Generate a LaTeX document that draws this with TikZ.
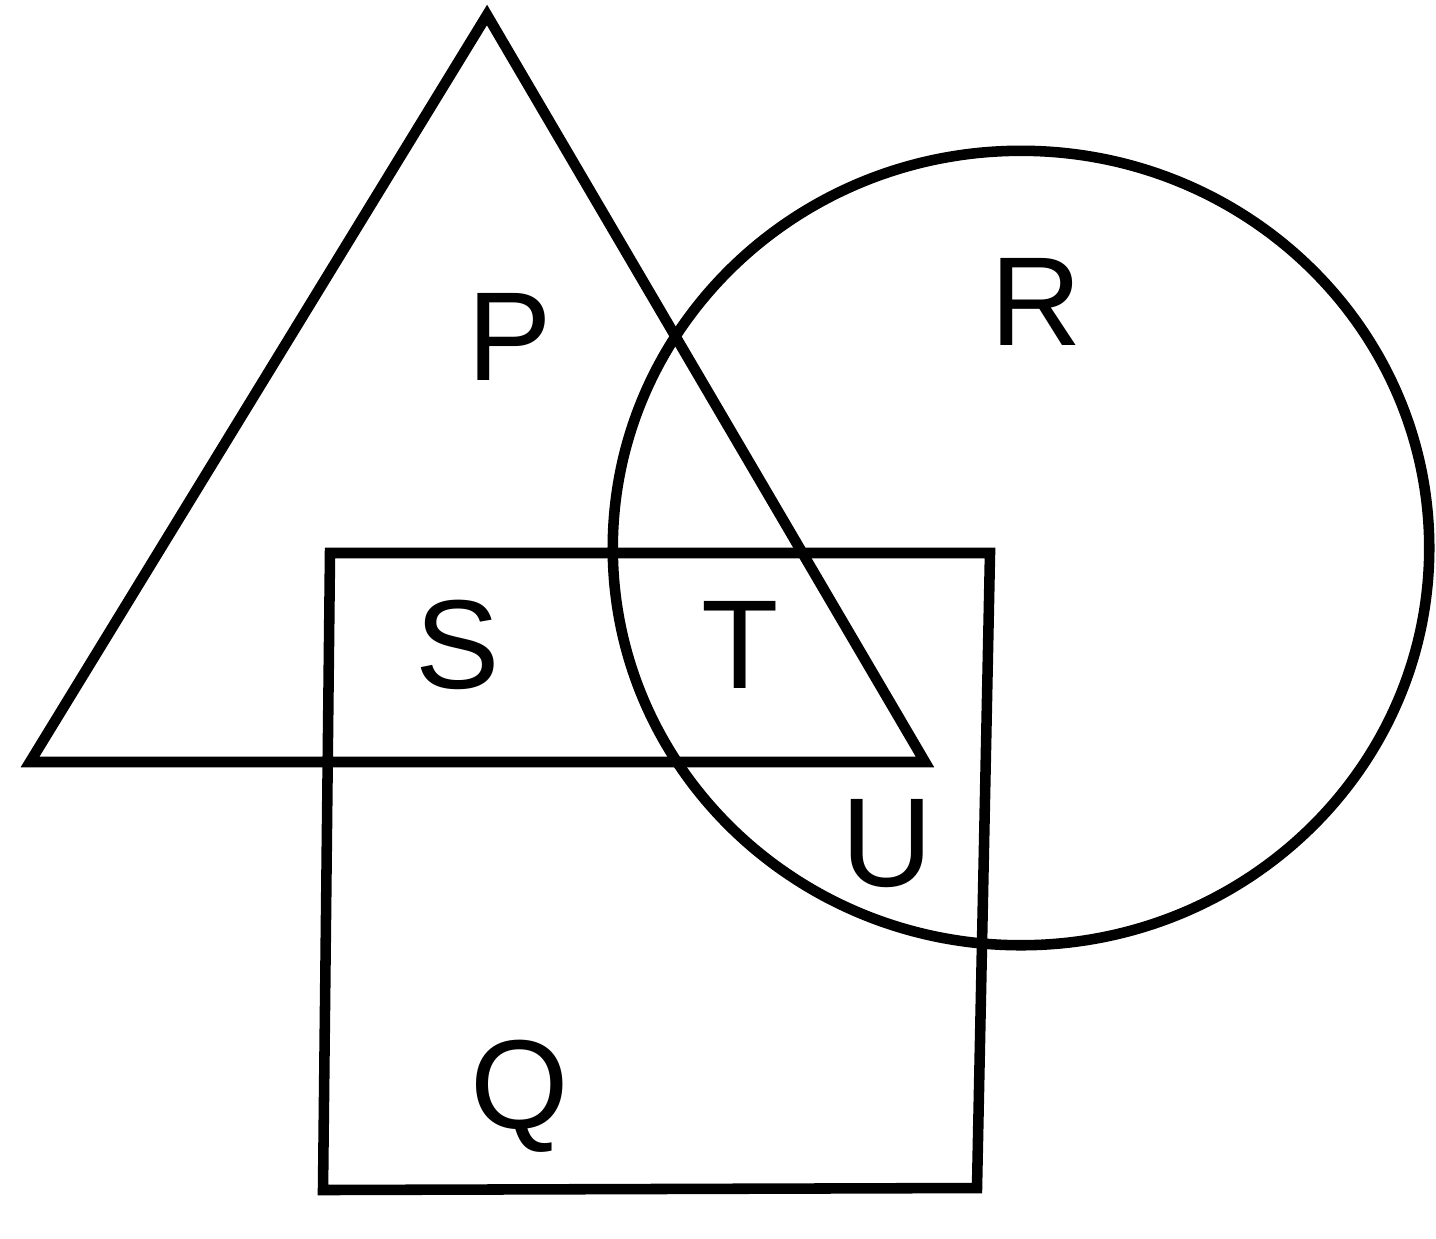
\documentclass[tikz,border=0pt]{standalone}
\usepackage{fontspec}
\setmainfont{Liberation Sans}
\begin{document}
\begin{tikzpicture}[x=0.01cm,y=-0.01cm,
  outline/.style={line width=3pt,draw=black},
  lbl/.style={anchor=base,inner sep=0pt,font=\fontsize{36}{40}\selectfont}]
\useasboundingbox[fill=white] (0,0) rectangle (1436,1238);
% triangle P
\coordinate (apex) at (487,15);
\coordinate (tbl) at (30,762);
\coordinate (tbr) at (925,762);
\draw[outline] (apex) -- (tbl) -- (tbr) -- cycle;
% rectangle Q
\coordinate (qtl) at (330,553);
\coordinate (qtr) at (990,553);
\coordinate (qbr) at (977,1188);
\coordinate (qbl) at (323,1190);
\draw[outline] (qtl) -- (qtr) -- (qbr) -- (qbl) -- cycle;
% circle R
\coordinate (rc) at (1021,548);
\draw[outline] (rc) ellipse [x radius=4.08cm, y radius=3.97cm];
% labels
\node[lbl] (P) at (510,380) {P};
\node[lbl] (R) at (1036,345) {R};
\node[lbl] (S) at (458,688) {S};
\node[lbl] (T) at (740,688) {T};
\node[lbl] (U) at (887,886) {U};
\node[lbl] (Q) at (520,1128) {Q};
\end{tikzpicture}
\end{document}
